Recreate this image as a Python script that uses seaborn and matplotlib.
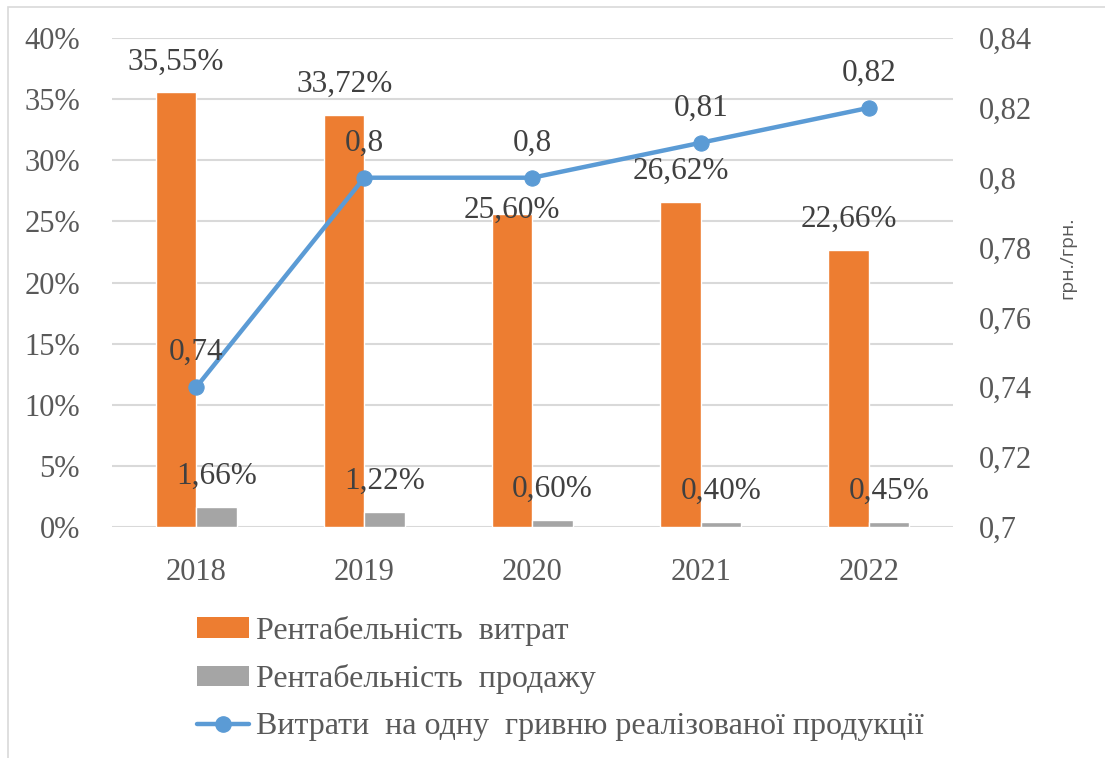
import seaborn as sns
import pandas as pd
import numpy as np
import matplotlib.pyplot as plt
from matplotlib.patches import Patch, Rectangle
from matplotlib.lines import Line2D

years = ["2018", "2019", "2020", "2021", "2022"]
cost_profit = [35.55, 33.72, 25.60, 26.62, 22.66]
sales_profit = [1.66, 1.22, 0.60, 0.40, 0.45]
cost_per_uah = [0.74, 0.80, 0.80, 0.81, 0.82]

name_cost = "Рентабельність  витрат"
name_sales = "Рентабельність  продажу"
name_line = "Витрати  на одну  гривню реалізованої продукції"

orange = "#ED7D31"
grey = "#A5A5A5"
blue = "#5B9BD5"
txt = "#595959"

sns.set_style("white")
plt.rcParams["font.family"] = ["Liberation Serif", "DejaVu Serif"]

df = pd.DataFrame({
    "year": years * 2,
    "value": cost_profit + sales_profit,
    "series": [name_cost] * 5 + [name_sales] * 5,
})

fig = plt.figure(figsize=(11.05, 7.58), dpi=100)
ax = fig.add_axes([0.1014, 0.3047, 0.761, 0.6452])

sns.barplot(data=df, x="year", y="value", hue="series", palette=[orange, grey],
            width=0.48, gap=0, ax=ax, legend=False, saturation=1)
ax.set_ylim(0, 40)
ax.set_yticks(np.arange(0, 41, 5))
ax.set_yticklabels([f"{v}%" for v in range(0, 41, 5)])
ax.grid(axis="y", color="#D9D9D9", linewidth=1.5)
ax.set_axisbelow(True)
for s in ax.spines.values():
    s.set_visible(False)
ax.set_xlabel("")
ax.set_ylabel("")
ax.tick_params(axis="y", length=0, labelsize=22, labelcolor=txt, pad=23)
ax.tick_params(axis="x", length=0, labelsize=22, labelcolor=txt, pad=22)

# bar labels
fmt = lambda v: f"{v:.2f}%".replace(".", ",")
for i, c in enumerate(ax.containers):
    for j, bar in enumerate(c):
        off = 22
        if i == 0 and j == 2:
            off = 3
        ax.annotate(fmt(bar.get_height()), (bar.get_x() + bar.get_width() / 2, bar.get_height()),
                    xytext=(0, off), textcoords="offset points", ha="center", va="center",
                    fontsize=22.5, color="#404040")

ax2 = ax.twinx()
sns.lineplot(x=np.arange(len(years)), y=cost_per_uah, ax=ax2, color=blue, linewidth=3.2,
             marker="o", markersize=11, markeredgecolor=blue)
ax2.set_ylim(0.7, 0.84)
yt = np.round(np.arange(0.70, 0.841, 0.02), 2)
ax2.set_yticks(yt)
ax2.set_yticklabels([f"{v:g}".replace(".", ",") for v in yt])
ax2.tick_params(axis="y", length=0, labelsize=22, labelcolor=txt, pad=19)
for s in ax2.spines.values():
    s.set_visible(False)
ax2.set_ylabel("грн./грн.", fontsize=14, color=txt, family=["Open Sans", "DejaVu Sans"])
ax2.yaxis.set_label_coords(1.125, 0.55)
for j, v in enumerate(cost_per_uah):
    ax2.annotate(f"{v:g}".replace(".", ","), (j, v), xytext=(0, 25), textcoords="offset points",
                 ha="center", va="center", fontsize=22.5, color="#404040")
ax.set_xlim(-0.5, 4.5)

handles = [
    Patch(facecolor=orange, edgecolor="none"),
    Patch(facecolor=grey, edgecolor="none"),
    Line2D([0], [0], color=blue, linewidth=3.2, marker="o", markersize=11),
]
fig.legend(handles, [name_cost, name_sales, name_line], loc="upper left",
           bbox_to_anchor=(0.178, 0.1873), frameon=False, fontsize=23, labelcolor=txt,
           handlelength=1.65, handleheight=0.63, handletextpad=0.2, labelspacing=0.57,
           borderpad=0, borderaxespad=0)

fig.patches.append(Rectangle((8 / 1105, -0.05), 1.2, 1 - 7 / 758 + 0.05, transform=fig.transFigure,
                             fill=False, edgecolor="#D9D9D9", linewidth=1.2))

fig.savefig("out.png", dpi=100)
